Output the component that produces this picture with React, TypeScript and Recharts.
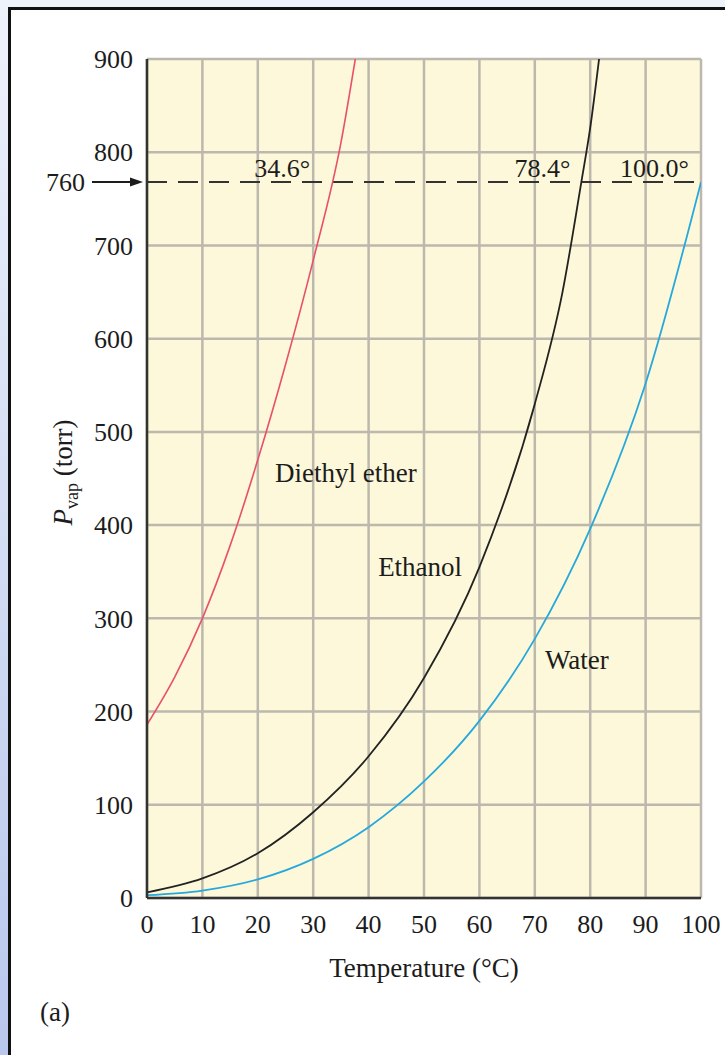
import React from "react";
import {
  LineChart,
  Line,
  XAxis,
  YAxis,
  CartesianGrid,
  ReferenceLine,
  ReferenceDot,
} from "recharts";

// temperatures (°C) and vapour pressures (torr)
const etherTemps = [0, 5, 10, 15, 20, 25, 30, 35, 37.6];
const etherPressures = [186, 237, 300, 378, 470, 572, 684, 810, 900];

const ethanolTemps = [0, 10, 20, 30, 40, 50, 60, 70, 75, 78.4, 80, 81.6];
const ethanolPressures = [6, 21, 48, 92, 152, 236, 355, 530, 650, 768, 826, 900];

const waterTemps = [0, 10, 20, 30, 40, 50, 60, 70, 80, 90, 100];
const waterPressures = [3, 8, 20, 42, 76, 125, 190, 278, 396, 552, 768];

const xTicks = [0, 10, 20, 30, 40, 50, 60, 70, 80, 90, 100];
const yTicks = [0, 100, 200, 300, 400, 500, 600, 700, 800, 900];

// the 1 atm line, labelled 760, sits at this height on the drawn scale
const atmLabel = "760";
const atmLevel = 768;

// boiling point labels sit a little left of where each curve meets the line
const boilingLabels = [
  { text: "34.6°", t: 24.4 },
  { text: "78.4°", t: 71.4 },
  { text: "100.0°", t: 91.6 },
];

const curveLabels = [
  { text: "Diethyl ether", t: 35.9, p: 457 },
  { text: "Ethanol", t: 49.3, p: 356 },
  { text: "Water", t: 77.6, p: 256 },
];

const toPoints = (temps: number[], pressures: number[]) =>
  temps.map((t, i) => ({ t, p: pressures[i] }));

const FONT = '"Liberation Serif", "Times New Roman", serif';
const INK = "#1c1c1c";

const series = [
  { key: "ether", data: toPoints(etherTemps, etherPressures), color: "#e8506b", width: 1.6 },
  { key: "ethanol", data: toPoints(ethanolTemps, ethanolPressures), color: "#222222", width: 1.8 },
  { key: "water", data: toPoints(waterTemps, waterPressures), color: "#27a8dc", width: 1.8 },
];

function AtmLabel(props: any) {
  const { x, y } = props.viewBox;
  return (
    <g>
      <text
        x={x - 62}
        y={y}
        dy="0.355em"
        textAnchor="end"
        fontFamily={FONT}
        fontSize={26}
        fill={INK}
      >
        {atmLabel}
      </text>
      <line x1={x - 55} y1={y} x2={x - 14} y2={y} stroke={INK} strokeWidth={2} />
      <polygon points={`${x - 4},${y} ${x - 17},${y - 4.5} ${x - 17},${y + 4.5}`} fill={INK} />
    </g>
  );
}

function PressureLabel(props: any) {
  const { x, y, height } = props.viewBox;
  const cx = x - 15;
  const cy = y + height / 2 - 6;
  return (
    <text
      transform={`translate(${cx},${cy}) rotate(-90)`}
      textAnchor="middle"
      fontFamily={FONT}
      fontSize={27}
      fill={INK}
    >
      <tspan fontStyle="italic">P</tspan>
      <tspan fontSize={18} dy={6}>
        vap
      </tspan>
      <tspan dy={-6}> (torr)</tspan>
    </text>
  );
}

export default function App() {
  return (
    <div
      style={{
        position: "absolute",
        left: 0,
        top: 0,
        width: 725,
        height: 1055,
        background: "linear-gradient(to bottom, #eef2fb 0%, #b8c7ec 100%)",
        overflow: "hidden",
      }}
    >
      <div
        style={{
          position: "absolute",
          left: 8,
          top: 7,
          right: 0,
          bottom: 0,
          background: "#ffffff",
          borderLeft: "3px solid #111",
          borderTop: "3px solid #111",
        }}
      />
      <div style={{ position: "absolute", left: 0, top: 0 }}>
        <LineChart
          width={725}
          height={1055}
          margin={{ top: 59, right: 24, bottom: 97, left: 87 }}
        >
          <CartesianGrid
            stroke="#bcb8ae"
            strokeWidth={2.5}
            fill="#fcf8d9"
            fillOpacity={1}
          />
          <XAxis
            type="number"
            dataKey="t"
            domain={[0, 100]}
            ticks={xTicks}
            allowDataOverflow
            height={60}
            tickSize={0}
            tickMargin={17}
            tickLine={false}
            axisLine={{ stroke: "#333", strokeWidth: 2.5 }}
            tick={{ fontFamily: FONT, fontSize: 26, fill: INK }}
            label={{
              value: "Temperature (°C)",
              position: "bottom",
              offset: 0,
              fontFamily: FONT,
              fontSize: 27,
              fill: INK,
            }}
          />
          <YAxis
            type="number"
            dataKey="p"
            domain={[0, 900]}
            ticks={yTicks}
            allowDataOverflow
            width={60}
            tickSize={0}
            tickMargin={14}
            tickLine={false}
            axisLine={{ stroke: "#333", strokeWidth: 2.5 }}
            tick={{ fontFamily: FONT, fontSize: 26, fill: INK }}
            label={{ content: PressureLabel }}
          />
          <ReferenceLine
            y={atmLevel}
            stroke="#333"
            strokeWidth={2}
            strokeDasharray="20 11"
            label={{ content: AtmLabel }}
          />
          {series.map((s) => (
            <Line
              key={s.key}
              data={s.data}
              dataKey="p"
              type="monotone"
              stroke={s.color}
              strokeWidth={s.width}
              dot={false}
              activeDot={false}
              isAnimationActive={false}
            />
          ))}
          {boilingLabels.map((b) => (
            <ReferenceDot
              key={b.text}
              x={b.t}
              y={atmLevel}
              r={0}
              fill="none"
              stroke="none"
              label={{
                value: b.text,
                position: "top",
                offset: 5,
                fontFamily: FONT,
                fontSize: 26,
                fill: INK,
              }}
            />
          ))}
          {curveLabels.map((c) => (
            <ReferenceDot
              key={c.text}
              x={c.t}
              y={c.p}
              r={0}
              fill="none"
              stroke="none"
              label={{
                value: c.text,
                position: "center",
                fontFamily: FONT,
                fontSize: 27,
                fill: INK,
              }}
            />
          ))}
        </LineChart>
      </div>
      <div
        style={{
          position: "absolute",
          left: 40,
          top: 997,
          fontFamily: FONT,
          fontSize: 27,
          color: INK,
        }}
      >
        (a)
      </div>
    </div>
  );
}
